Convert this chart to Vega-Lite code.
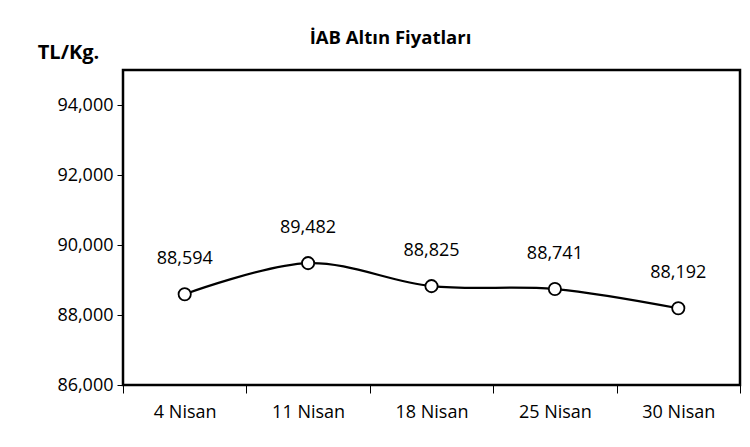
{
  "$schema": "https://vega.github.io/schema/vega-lite/v6.json",
  "width": 617,
  "height": 315,
  "autosize": {"type": "none"},
  "padding": {"left": 123, "top": 70, "right": 10, "bottom": 62},
  "background": "white",
  "config": {
    "font": "Open Sans",
    "view": {"stroke": "black", "strokeWidth": 2.5},
    "axis": {"labelFont": "Open Sans", "labelFontSize": 18, "labelColor": "black", "tickColor": "black", "domain": false, "grid": false}
  },
  "title": {
    "text": "İAB Altın Fiyatları",
    "font": "Open Sans",
    "fontSize": 18.5,
    "fontWeight": "bold",
    "color": "black",
    "anchor": "middle",
    "dx": -41,
    "offset": -5
  },
  "data": {
    "values": [
      {"tarih": "4 Nisan", "fiyat": 88594},
      {"tarih": "11 Nisan", "fiyat": 89482},
      {"tarih": "18 Nisan", "fiyat": 88825},
      {"tarih": "25 Nisan", "fiyat": 88741},
      {"tarih": "30 Nisan", "fiyat": 88192}
    ]
  },
  "encoding": {
    "x": {
      "field": "tarih",
      "type": "ordinal",
      "sort": null,
      "scale": {"paddingInner": 0, "paddingOuter": 0},
      "axis": {"title": null, "labelAngle": 0, "tickBand": "extent", "tickSize": 8, "labelPadding": 10, "ticks": true}
    },
    "y": {
      "field": "fiyat",
      "type": "quantitative",
      "scale": {"domain": [86000, 95000], "nice": false, "zero": false},
      "axis": {
        "values": [86000, 88000, 90000, 92000, 94000],
        "format": ",.0f",
        "tickSize": 6,
        "labelPadding": 4,
        "title": "TL/Kg.",
        "titleAngle": 0,
        "titleFont": "Open Sans",
        "titleFontSize": 20,
        "titleFontWeight": "bold",
        "titleColor": "black",
        "titleAlign": "center",
        "titleBaseline": "middle",
        "titleX": -55,
        "titleY": -18
      }
    }
  },
  "layer": [
    {
      "mark": {"type": "line", "interpolate": "catmull-rom", "color": "black", "strokeWidth": 2.2}
    },
    {
      "mark": {"type": "point", "shape": "circle", "filled": true, "fill": "white", "stroke": "black", "strokeWidth": 1.8, "size": 150, "opacity": 1}
    },
    {
      "mark": {"type": "text", "dy": -35, "fontSize": 18, "font": "Open Sans", "color": "black"},
      "encoding": {"text": {"field": "fiyat", "type": "quantitative", "format": ",.0f"}}
    }
  ]
}
